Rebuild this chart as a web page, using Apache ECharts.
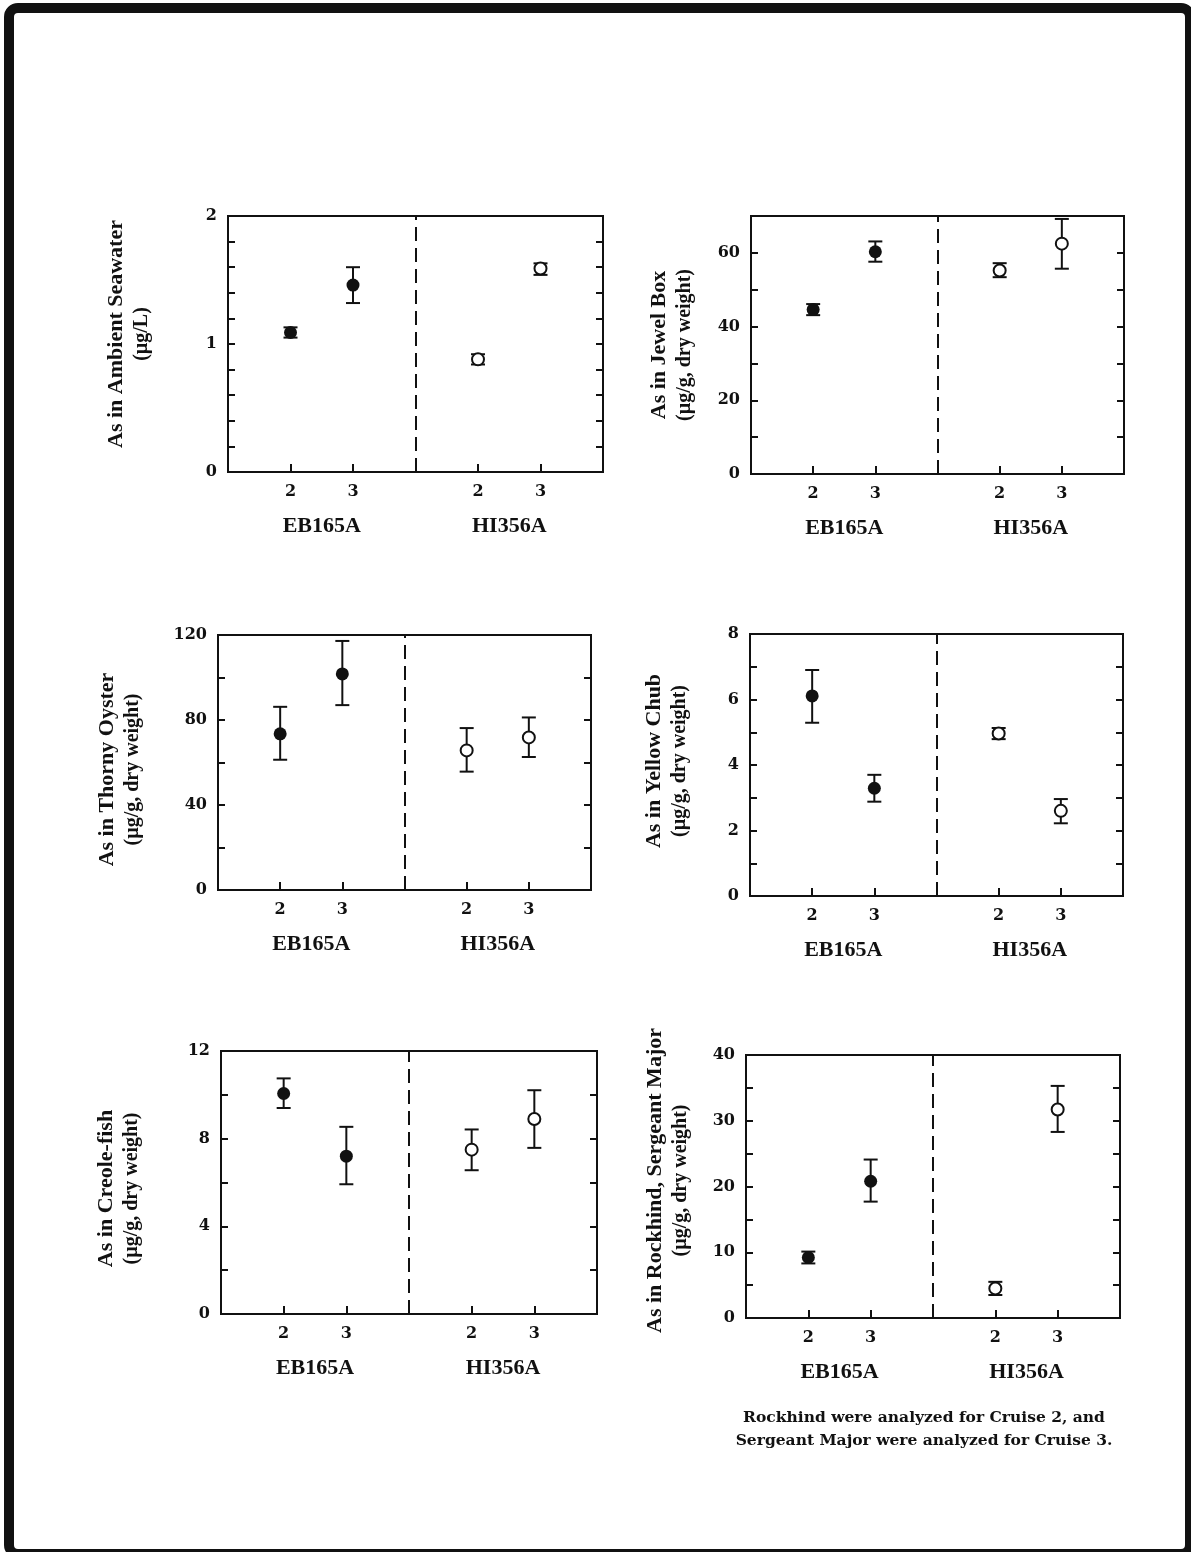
<!DOCTYPE html>
<html>
<head>
<meta charset="utf-8">
<script src="https://cdn.jsdelivr.net/npm/echarts@6/dist/echarts.min.js"></script>
<style>
  html, body { margin: 0; padding: 0; background: #fff; overflow: hidden; }
  #chart { position: absolute; left: 0; top: 0; width: 1191px; height: 1552px; }
  #frame { position: absolute; left: 4px; top: 3px; width: 1191px; height: 1556px;
           box-sizing: border-box; border: 10px solid #111; border-radius: 14px; pointer-events: none; }
</style>
</head>
<body>
<div id="chart"></div>
<div id="frame"></div>
<script>
// Cruise tick labels along each x axis (blank slots = margins and the station divider)
const cruiseTicks = ['', '2', '3', '', '2', '3', ''];
const stationNames = ['EB165A', 'HI356A'];
// Station divider sits on the blank slot between the two stations
const dividerSlot = 3;

// Values in order: EB165A cruise 2, EB165A cruise 3, HI356A cruise 2, HI356A cruise 3
const seawaterMean = [1.09, 1.46, 0.88, 1.59];
const seawaterLow  = [1.05, 1.32, 0.84, 1.54];
const seawaterHigh = [1.13, 1.60, 0.92, 1.63];

const jewelBoxMean = [44.6, 60.3, 55.2, 62.5];
const jewelBoxLow  = [43.1, 57.6, 53.4, 55.7];
const jewelBoxHigh = [46.1, 63.1, 57.2, 69.2];

const thornyOysterMean = [73.5, 101.7, 65.7, 71.8];
const thornyOysterLow  = [61.3, 87.0, 55.7, 62.6];
const thornyOysterHigh = [86.2, 117.2, 76.2, 81.2];

const yellowChubMean = [6.11, 3.29, 4.96, 2.60];
const yellowChubLow  = [5.29, 2.88, 4.79, 2.22];
const yellowChubHigh = [6.90, 3.70, 5.13, 2.96];

const creoleFishMean = [10.06, 7.20, 7.50, 8.90];
const creoleFishLow  = [9.40, 5.92, 6.56, 7.58];
const creoleFishHigh = [10.75, 8.54, 8.42, 10.21];

const rockhindMean = [9.2, 20.8, 4.5, 31.7];
const rockhindLow  = [8.3, 17.7, 3.5, 28.3];
const rockhindHigh = [10.1, 24.1, 5.5, 35.3];

const footnoteLines = ['Rockhind were analyzed for Cruise 2, and', 'Sergeant Major were analyzed for Cruise 3.'];

// Panel layout and axis settings (lift = how far the axis title sits above the axis middle)
const panels = [
  { t1: 'As in Ambient Seawater', t2: '(µg/L)', mean: seawaterMean, low: seawaterLow, high: seawaterHigh,
    max: 2, minor: 0.2, major: 1, rect: [228, 216, 375, 256], gap: 73, lift: 10 },
  { t1: 'As in Jewel Box', t2: '(µg/g, dry weight)', mean: jewelBoxMean, low: jewelBoxLow, high: jewelBoxHigh,
    max: 70, minor: 10, major: 20, rect: [751, 216, 373, 258], gap: 53, lift: 0 },
  { t1: 'As in Thorny Oyster', t2: '(µg/g, dry weight)', mean: thornyOysterMean, low: thornyOysterLow, high: thornyOysterHigh,
    max: 120, minor: 20, major: 40, rect: [218, 635, 373, 255], gap: 72, lift: -7 },
  { t1: 'As in Yellow Chub', t2: '(µg/g, dry weight)', mean: yellowChubMean, low: yellowChubLow, high: yellowChubHigh,
    max: 8, minor: 1, major: 2, rect: [750, 634, 373, 262], gap: 57, lift: 4 },
  { t1: 'As in Creole-fish', t2: '(µg/g, dry weight)', mean: creoleFishMean, low: creoleFishLow, high: creoleFishHigh,
    max: 12, minor: 2, major: 4, rect: [221, 1051, 376, 263], gap: 76, lift: -6 },
  { t1: 'As in Rockhind, Sergeant Major', t2: '(µg/g, dry weight)', mean: rockhindMean, low: rockhindLow, high: rockhindHigh,
    max: 40, minor: 5, major: 10, rect: [746, 1055, 374, 263], gap: 52, lift: 6 }
];

const INK = '#111';
const tickFont = 'DejaVu Serif';
const titleFont = 'Liberation Serif';

// category slots that carry a cruise label
const slots = cruiseTicks.map((c, i) => (c ? i : -1)).filter(i => i >= 0);

function isMajor(v, major) {
  const r = v / major;
  return Math.abs(r - Math.round(r)) < 1e-6;
}

function errorBarRender(params, api) {
  const x = api.value(0);
  const lo = api.coord([x, api.value(1)]);
  const hi = api.coord([x, api.value(2)]);
  const cap = 7;
  const style = { stroke: INK, lineWidth: 2 };
  return {
    type: 'group',
    children: [
      { type: 'line', shape: { x1: lo[0], y1: lo[1], x2: hi[0], y2: hi[1] }, style },
      { type: 'line', shape: { x1: lo[0] - cap, y1: lo[1], x2: lo[0] + cap, y2: lo[1] }, style },
      { type: 'line', shape: { x1: hi[0] - cap, y1: hi[1], x2: hi[0] + cap, y2: hi[1] }, style }
    ]
  };
}

const grid = [], xAxis = [], yAxis = [], series = [];

panels.forEach((p, i) => {
  grid.push({
    left: p.rect[0], top: p.rect[1], width: p.rect[2], height: p.rect[3],
    show: true, borderColor: INK, borderWidth: 2, backgroundColor: 'transparent'
  });

  // cruise axis
  xAxis.push({
    type: 'category', gridIndex: i, data: cruiseTicks, boundaryGap: false, position: 'bottom',
    axisLine: { show: true, lineStyle: { color: INK, width: 2 } },
    axisTick: { show: true, inside: true, length: 8, lineStyle: { color: INK, width: 2 },
                interval: (idx) => cruiseTicks[idx] !== '' },
    axisLabel: { show: true, interval: 0, margin: 12, color: INK, fontFamily: tickFont,
                 fontWeight: 'bold', fontSize: 16 },
    splitLine: { show: false }
  });
  // station axis
  xAxis.push({
    type: 'category', gridIndex: i, data: stationNames, boundaryGap: true, position: 'bottom',
    axisLine: { show: false }, axisTick: { show: false }, splitLine: { show: false },
    axisLabel: { show: true, interval: 0, margin: 43, color: INK, fontFamily: titleFont,
                 fontWeight: 'bold', fontSize: 22 }
  });

  const yBase = {
    type: 'value', gridIndex: i, min: 0, max: p.max, interval: p.minor,
    axisLine: { show: true, lineStyle: { color: INK, width: 2 } },
    axisTick: { show: true, inside: true, length: 7, lineStyle: { color: INK, width: 2 } },
    splitLine: { show: false }
  };
  // rotated title: padding on its reading-start side pushes it up, on its end side pushes it down
  const pad = p.lift >= 0 ? [0, 0, 0, 2 * p.lift] : [0, -2 * p.lift, 0, 0];
  yAxis.push(Object.assign({}, yBase, {
    position: 'left',
    axisLabel: { show: true, margin: 11, color: INK, fontFamily: tickFont, fontWeight: 'bold', fontSize: 16,
                 formatter: (v) => (isMajor(v, p.major) ? String(Math.round(v / p.major) * p.major) : '') },
    name: '{a|' + p.t1 + '}\n{b|' + p.t2 + '}',
    nameLocation: 'middle', nameRotate: 90, nameGap: p.gap,
    nameTextStyle: {
      align: 'center', padding: pad,
      fontFamily: titleFont, fontWeight: 'bold', fontSize: 20, lineHeight: 26, color: INK,
      rich: {
        a: { fontFamily: titleFont, fontWeight: 'bold', fontSize: 22, lineHeight: 26, color: INK },
        b: { fontFamily: titleFont, fontWeight: 'bold', fontSize: 20, lineHeight: 26, color: INK }
      }
    }
  }));
  yAxis.push(Object.assign({}, yBase, {
    position: 'right', axisLabel: { show: false }
  }));

  const xAx = 2 * i, yAx = 2 * i;

  series.push({
    type: 'custom', xAxisIndex: xAx, yAxisIndex: yAx, z: 2, silent: true,
    renderItem: errorBarRender,
    encode: { x: 0, y: [1, 2] },
    data: slots.map((s, k) => [s, p.low[k], p.high[k]])
  });
  series.push({
    type: 'scatter', xAxisIndex: xAx, yAxisIndex: yAx, z: 4, silent: true,
    symbol: 'circle', symbolSize: 13,
    itemStyle: { color: INK, opacity: 1 },
    data: slots.slice(0, 2).map((s, k) => [s, p.mean[k]]),
    markLine: {
      silent: true, symbol: 'none', animation: false,
      label: { show: false },
      lineStyle: { color: INK, width: 2, type: [14, 7] },
      data: [{ xAxis: dividerSlot }]
    }
  });
  series.push({
    type: 'scatter', xAxisIndex: xAx, yAxisIndex: yAx, z: 4, silent: true,
    symbol: 'circle', symbolSize: 12,
    itemStyle: { color: '#fff', borderColor: INK, borderWidth: 2, opacity: 1 },
    data: slots.slice(2, 4).map((s, k) => [s, p.mean[k + 2]])
  });
});

const chart = echarts.init(document.getElementById('chart'), null, { renderer: 'canvas' });
chart.setOption({
  animation: false,
  backgroundColor: '#fff',
  grid, xAxis, yAxis, series,
  graphic: [{
    type: 'text', x: 924, y: 1406,
    style: {
      text: footnoteLines.join('\n'), align: 'center', verticalAlign: 'top',
      fontFamily: 'DejaVu Serif', fontWeight: 'bold', fontSize: 15.5, lineHeight: 23, fill: INK
    }
  }]
});
</script>
</body>
</html>
